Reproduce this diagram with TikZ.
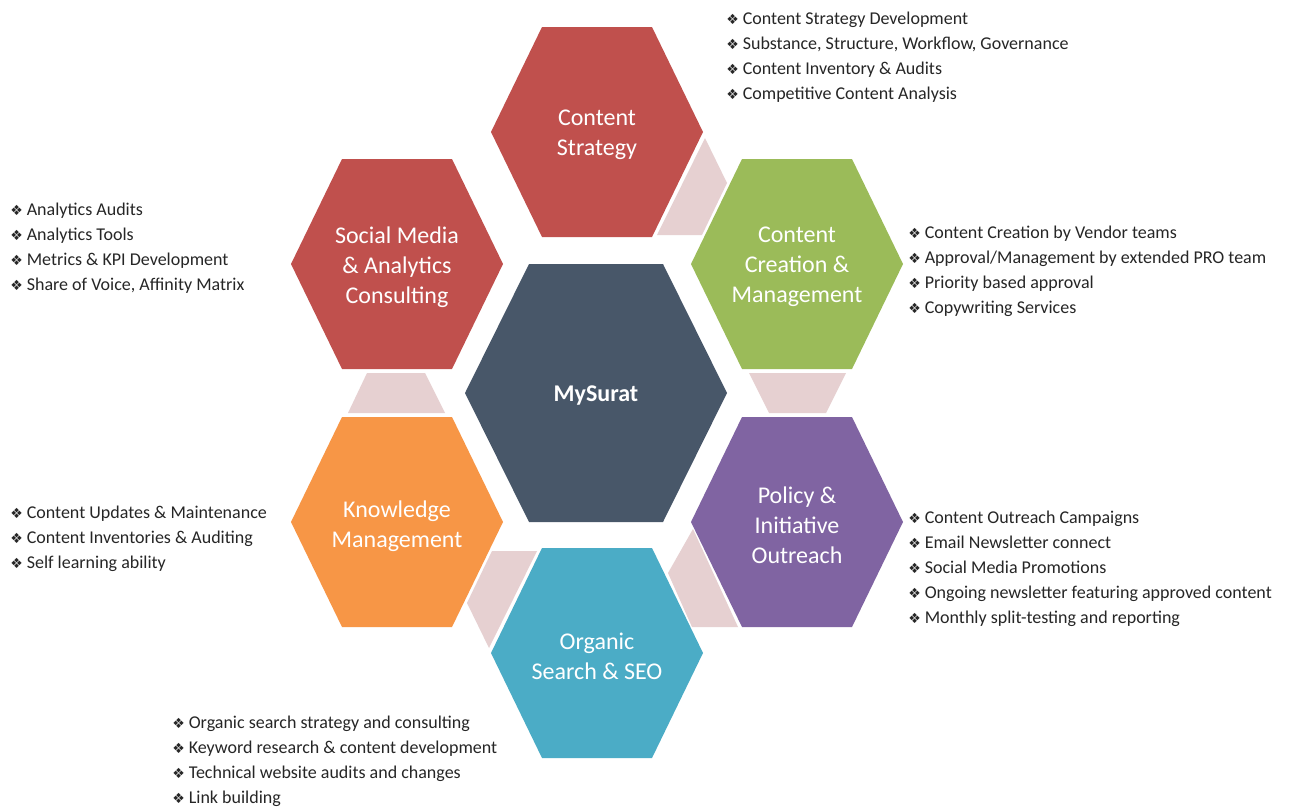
\documentclass[tikz,border=0pt]{standalone}
\usepackage{fontspec}
\setmainfont{Carlito}
\newfontfamily\symbolfont{DejaVu Sans}

\definecolor{hexred}{HTML}{C0504D}
\definecolor{hexgreen}{HTML}{9BBB59}
\definecolor{hexslate}{HTML}{485769}
\definecolor{hexorange}{HTML}{F79646}
\definecolor{hexpurple}{HTML}{8064A2}
\definecolor{hexteal}{HTML}{4BACC6}
\definecolor{linkpink}{HTML}{E6D0D1}
\definecolor{listgray}{HTML}{262626}

% one bulleted line of a feature list
\newcommand\listentry[1]{\strut{\symbolfont\fontsize{10.5}{10.5}\selectfont\char"2756}\hspace{3pt}#1}

\begin{document}
\begin{tikzpicture}[x=0.75pt,y=-0.75pt,
  hextext/.style={text=white, align=center, font=\fontsize{18}{22.5}\selectfont, inner sep=0pt, yshift=-2.25pt},
  listtext/.style={text=listgray, align=left, anchor=west, font=\fontsize{13.5}{18.75}\selectfont, inner sep=0pt},
  link/.style={fill=linkpink},
  outerhex/.pic={\fill[pic actions] (-106,0) -- (-55,-105) -- (55,-105) -- (106,0) -- (55,105) -- (-55,105) -- cycle;},
  centerhex/.pic={\fill[pic actions] (-131,0) -- (-67,-129) -- (67,-129) -- (131,0) -- (67,129) -- (-67,129) -- cycle;}
]
\useasboundingbox (0,0) rectangle (1297,807);
\fill[white] (0,0) rectangle (1297,807);

% pink links between neighbouring hexagons
\fill[link] (705,138) -- (727,183) -- (702,235) -- (657,235) -- cycle;
\fill[link] (367,373) -- (425,373) -- (445,413) -- (348,413) -- cycle;
\fill[link] (749,373) -- (846,373) -- (826,413) -- (769,413) -- cycle;
\fill[link] (492,551) -- (537,551) -- (489,648) -- (467,603) -- cycle;
\fill[link] (693,529) -- (738,627) -- (692,627) -- (668,573) -- cycle;

% hexagons
\pic[fill=hexred]    at (597,132) {outerhex};
\pic[fill=hexred]    at (397,264) {outerhex};
\pic[fill=hexgreen]  at (797,264) {outerhex};
\pic[fill=hexorange] at (397,522) {outerhex};
\pic[fill=hexpurple] at (797,522) {outerhex};
\pic[fill=hexteal]   at (597,653) {outerhex};
\pic[fill=hexslate]  at (596,393) {centerhex};

% hexagon titles
\node[hextext] (strategy) at (597,132) {Content\\Strategy};
\node[hextext] (social)   at (397,264) {Social Media\\\& Analytics\\Consulting};
\node[hextext] (creation) at (797,264) {Content\\Creation \&\\Management};
\node[hextext] (knowledge) at (397,523) {Knowledge\\Management};
\node[hextext] (policy)   at (797,522) {Policy \&\\Initiative\\Outreach};
\node[hextext] (organic)  at (597,653) {Organic\\Search \& SEO};
\node[hextext, font=\fontsize{18}{22.5}\selectfont\bfseries] (core) at (596,393) {MySurat};

% feature lists
\node[listtext] (strategylist) at (726,57) {\listentry{Content Strategy Development}\\
  \listentry{Substance, Structure, Workflow, Governance}\\
  \listentry{Content Inventory \& Audits}\\
  \listentry{Competitive Content Analysis}};
\node[listtext] (sociallist) at (10,248) {\listentry{Analytics Audits}\\
  \listentry{Analytics Tools}\\
  \listentry{Metrics \& KPI Development}\\
  \listentry{Share of Voice, Affinity Matrix}};
\node[listtext] (creationlist) at (908,271) {\listentry{Content Creation by Vendor teams}\\
  \listentry{Approval/Management by extended PRO team}\\
  \listentry{Priority based approval}\\
  \listentry{Copywriting Services}};
\node[listtext] (knowledgelist) at (10,538.5) {\listentry{Content Updates \& Maintenance}\\
  \listentry{Content Inventories \& Auditing}\\
  \listentry{Self learning ability}};
\node[listtext] (policylist) at (908,568.5) {\listentry{Content Outreach Campaigns}\\
  \listentry{Email Newsletter connect}\\
  \listentry{Social Media Promotions}\\
  \listentry{Ongoing newsletter featuring approved content}\\
  \listentry{Monthly split-testing and reporting}};
\node[listtext] (organiclist) at (172,761) {\listentry{Organic search strategy and consulting}\\
  \listentry{Keyword research \& content development}\\
  \listentry{Technical website audits and changes}\\
  \listentry{Link building}};
\end{tikzpicture}
\end{document}
